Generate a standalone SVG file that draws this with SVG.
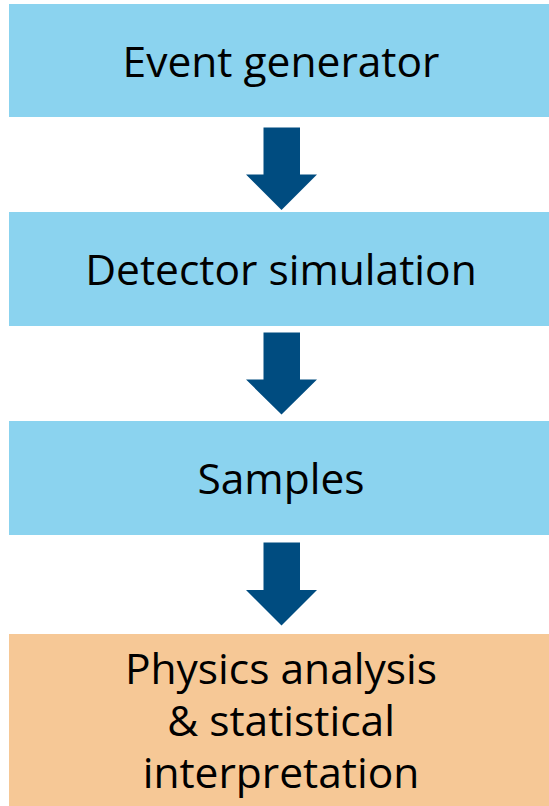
<svg xmlns="http://www.w3.org/2000/svg" width="549" height="806" viewBox="0 0 549 806">
<style>
.blue{fill:#8BD3EF}
.orange{fill:#F6C896}
.arrow{fill:#004C80}
text{font-family:"Open Sans","Noto Sans",sans-serif;font-size:42.5px;fill:#000;text-anchor:middle}
</style>
<rect width="549" height="806" fill="#FFFFFF"/>
<g id="event-generator">
<rect class="blue" x="9" y="4" width="540" height="113"/>
<text x="281" y="77">Event generator</text>
</g>
<g id="detector-simulation">
<rect class="blue" x="9" y="212" width="540" height="114"/>
<text x="281" y="285">Detector simulation</text>
</g>
<g id="samples">
<rect class="blue" x="9" y="421" width="540" height="114"/>
<text x="281" y="494">Samples</text>
</g>
<g id="physics-analysis">
<rect class="orange" x="9" y="634" width="540" height="172"/>
<text x="281" y="684">Physics analysis</text>
<text x="281" y="736">&amp; statistical</text>
<text x="281" y="788">interpretation</text>
</g>
<g id="connectors">
<polygon class="arrow" points="263.5,127.5 300,127.5 300,174.5 317,174.5 281.5,210 246,174.5 263.5,174.5"/>
<polygon class="arrow" points="263.5,332.5 300,332.5 300,379.5 317,379.5 281.5,414.5 246,379.5 263.5,379.5"/>
<polygon class="arrow" points="263.5,542.5 300,542.5 300,590 317,590 281.5,625.5 246,590 263.5,590"/>
</g>
</svg>
